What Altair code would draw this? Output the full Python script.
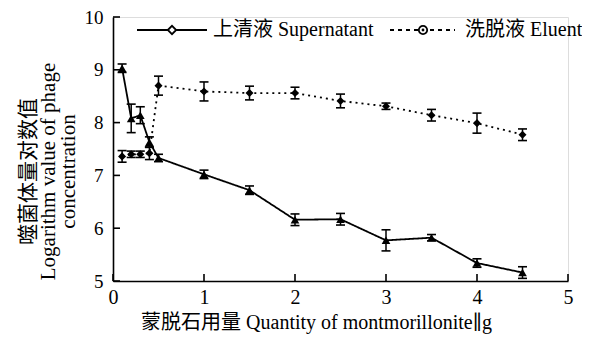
import altair as alt
import pandas as pd

# ---- data ----
x_vals = [0.1, 0.2, 0.3, 0.4, 0.5, 1.0, 1.5, 2.0, 2.5, 3.0, 3.5, 4.0, 4.5]
sup_vals = [9.03, 8.08, 8.14, 7.63, 7.33, 7.02, 6.72, 6.16, 6.17, 5.77, 5.82, 5.34, 5.16]
sup_err = [0.08, 0.27, 0.16, 0.10, 0.07, 0.08, 0.08, 0.11, 0.11, 0.20, 0.06, 0.08, 0.11]
elu_vals = [7.36, 7.40, 7.40, 7.42, 8.70, 8.59, 8.56, 8.56, 8.41, 8.31, 8.14, 7.99, 7.77]
elu_err = [0.11, 0.06, 0.06, 0.12, 0.18, 0.18, 0.13, 0.11, 0.13, 0.06, 0.11, 0.19, 0.11]
x_ticks = [0, 1, 2, 3, 4, 5]
y_ticks = [5, 6, 7, 8, 9, 10]
sup_name = "上清液 Supernatant"
elu_name = "洗脱液 Eluent"
x_title = "蒙脱石用量 Quantity of montmorillonite∥g"
y_title = ["噬菌体量对数值", "Logarithm value of phage", "concentration"]

FONT = "'Liberation Serif', 'DejaVu Serif', 'Noto Sans CJK SC', serif"
W, H = 455, 264

sup = pd.DataFrame({"x": x_vals, "y": sup_vals,
                    "lo": [v - e for v, e in zip(sup_vals, sup_err)],
                    "hi": [v + e for v, e in zip(sup_vals, sup_err)]})
elu = pd.DataFrame({"x": x_vals, "y": elu_vals,
                    "lo": [v - e for v, e in zip(elu_vals, elu_err)],
                    "hi": [v + e for v, e in zip(elu_vals, elu_err)]})

xs = alt.Scale(domain=[0, 5], nice=False)
ys = alt.Scale(domain=[5, 10], nice=False)

X = alt.X("x:Q", scale=xs, axis=alt.Axis(values=x_ticks, format="d", ticks=False, grid=False,
          labelFlush=False,
          labelFontSize=20, labelPadding=6, labelFont=FONT, labelColor="black",
          title=x_title, titleFont=FONT, titleFontSize=20, titleFontWeight="normal",
          titleColor="black", titlePadding=5, titleX=203,
          domainColor="black", domainWidth=1.6))
Y = alt.Y("y:Q", scale=ys, axis=alt.Axis(values=y_ticks, format="d", ticks=False, grid=False,
          labelFlush=False,
          labelFontSize=19, labelPadding=10, labelFont=FONT, labelColor="black",
          title=y_title, titleFont=FONT, titleFontSize=21, titleFontWeight="normal",
          titleColor="black", titleLineHeight=20, titleAngle=270,
          titleX=-85, titleY=154, titleBaseline="middle", titleAlign="center",
          domainColor="black", domainWidth=1.6))


def series(df, dash, shape, size):
    base = alt.Chart(df)
    line = base.mark_line(color="black", strokeWidth=1.8, strokeDash=dash).encode(x=X, y=Y)
    err = base.mark_rule(color="black", strokeWidth=1.5).encode(
        x=alt.X("x:Q", scale=xs), y=alt.Y("lo:Q", scale=ys), y2="hi:Q")
    cap_lo = base.mark_point(shape="M -1 0 L 1 0", size=81, color="black",
                             strokeWidth=1.6, filled=False, opacity=1).encode(
        x=alt.X("x:Q", scale=xs), y=alt.Y("lo:Q", scale=ys))
    cap_hi = base.mark_point(shape="M -1 0 L 1 0", size=81, color="black",
                             strokeWidth=1.6, filled=False, opacity=1).encode(
        x=alt.X("x:Q", scale=xs), y=alt.Y("hi:Q", scale=ys))
    pts = base.mark_point(shape=shape, size=size, filled=True, color="black",
                          opacity=1).encode(x=alt.X("x:Q", scale=xs), y=alt.Y("y:Q", scale=ys))
    return [line, err, cap_lo, cap_hi, pts]


layers = series(elu, [2, 4], "diamond", 65) + series(sup, [1, 0], "triangle-up", 75)

# inward axis ticks
xt = alt.Chart(pd.DataFrame({"t": x_ticks})).mark_rule(color="black", strokeWidth=1.6).encode(
    x=alt.X("t:Q", scale=xs), y=alt.value(H), y2=alt.value(H - 7))
yt = alt.Chart(pd.DataFrame({"t": y_ticks})).mark_rule(color="black", strokeWidth=1.6).encode(
    y=alt.Y("t:Q", scale=ys), x=alt.value(0), x2=alt.value(7))

# manual legend
one = pd.DataFrame({"a": [0]})
lg = alt.Chart(one)
leg = [
    lg.mark_rule(color="black", strokeWidth=1.8).encode(x=alt.value(24), x2=alt.value(94), y=alt.value(13)),
    lg.mark_point(shape="diamond", size=70, filled=True, fill="white", stroke="black",
                  strokeWidth=1.8, opacity=1).encode(x=alt.value(59), y=alt.value(13)),
    lg.mark_text(text=sup_name, font=FONT, fontSize=20, align="left", baseline="middle",
                 color="black").encode(x=alt.value(100), y=alt.value(13)),
    lg.mark_rule(color="black", strokeWidth=1.8, strokeDash=[4, 4]).encode(
        x=alt.value(277), x2=alt.value(342), y=alt.value(13)),
    lg.mark_point(shape="circle", size=70, filled=True, fill="white", stroke="black",
                  strokeWidth=1.8, opacity=1).encode(x=alt.value(310), y=alt.value(13)),
    lg.mark_point(shape="circle", size=8, filled=True, color="black",
                  opacity=1).encode(x=alt.value(310), y=alt.value(13)),
    lg.mark_text(text=elu_name, font=FONT, fontSize=20, align="left", baseline="middle",
                 color="black").encode(x=alt.value(352), y=alt.value(13)),
]

chart = alt.layer(*layers, xt, yt, *leg).properties(
    width=W, height=H,
    autosize=alt.AutoSizeParams(type="none"),
    padding={"left": 105, "top": 9, "right": 14, "bottom": 53},
).configure_view(stroke=None).configure(background="white")

chart.save("out.html", embed_options={"renderer": "svg", "actions": False})
